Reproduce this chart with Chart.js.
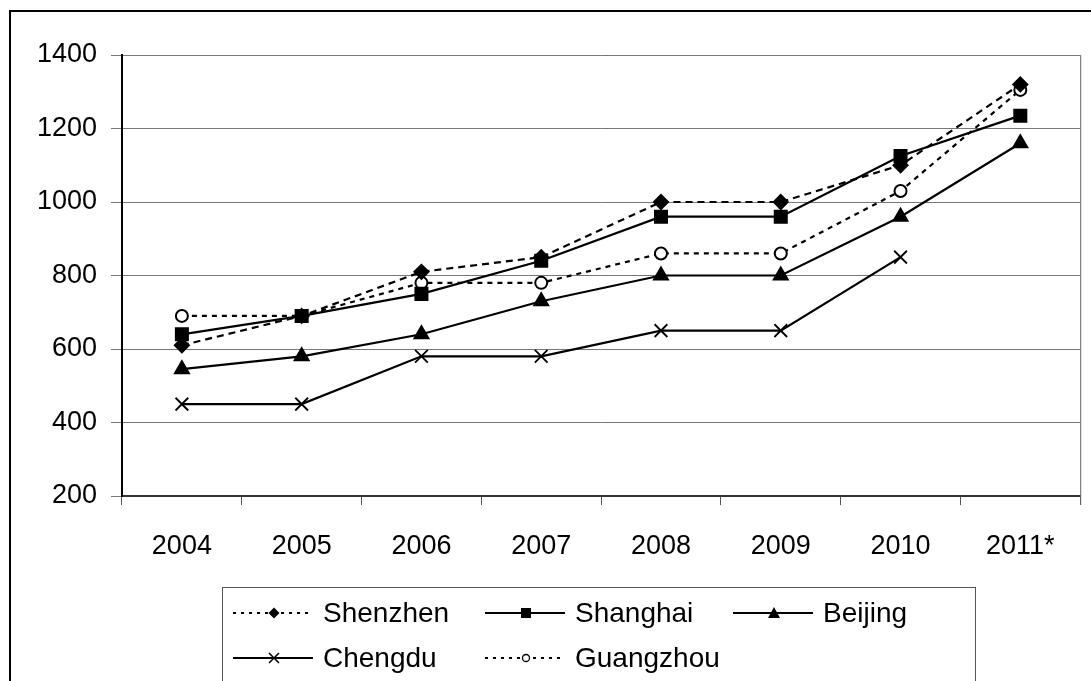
<!DOCTYPE html>
<html>
<head>
<meta charset="utf-8">
<script src="https://cdn.jsdelivr.net/npm/chart.js@4.4.1/dist/chart.umd.min.js"></script>
<style>
  html, body { margin: 0; padding: 0; background: #fff; overflow: hidden; }
  #wrap { position: relative; width: 1091px; height: 681px; }
  #frame { position: absolute; left: 9px; top: 10px; width: 1200px; height: 800px; border: 2px solid #000; box-sizing: border-box; pointer-events: none; }
  canvas { position: absolute; left: 0; top: 0; }
  #legend { position: absolute; left: 222px; top: 587px; width: 754px; height: 200px; border: 1px solid #555; box-sizing: border-box; font-family: "Liberation Sans", Arial, sans-serif; font-size: 28px; color: #000; }
  .sample { position: absolute; display: block; }
  .label { position: absolute; line-height: 32px; white-space: nowrap; }
</style>
</head>
<body>
<div id="wrap">
  <canvas id="c" width="1091" height="681"></canvas>
  <div id="frame"></div>
  <div id="legend"></div>
</div>
<script>
const categories = ["2004", "2005", "2006", "2007", "2008", "2009", "2010", "2011*"];
const shenzhen  = [610, 690, 810, 850, 1000, 1000, 1100, 1320];
const shanghai  = [640, 690, 750, 840, 960, 960, 1125, 1235];
const beijing   = [545, 580, 640, 730, 800, 800, 960, 1160];
const chengdu   = [450, 450, 580, 580, 650, 650, 850, null];
const guangzhou = [690, 690, 780, 780, 860, 860, 1030, 1305];
const yTicks = [200, 400, 600, 800, 1000, 1200, 1400];

const seriesDefs = [
  { label: "Shenzhen", data: shenzhen, style: "rectRot", r: 7, dash: [7, 5], fill: "#000" },
  { label: "Shanghai", data: shanghai, style: "rect", r: 8.5, dash: [], fill: "#000" },
  { label: "Beijing", data: beijing, style: "triangle", r: 8, dash: [], fill: "#000" },
  { label: "Chengdu", data: chengdu, style: "crossRot", r: 9, dash: [], fill: "#000" },
  { label: "Guangzhou", data: guangzhou, style: "circle", r: 6, dash: [5, 5], fill: "#fff" }
];

const datasets = seriesDefs.map(s => ({
  label: s.label,
  data: s.data,
  borderColor: "#000",
  borderWidth: 2.2,
  borderDash: s.dash,
  backgroundColor: s.fill,
  pointStyle: s.style,
  pointRadius: s.r,
  pointHoverRadius: s.r,
  pointBackgroundColor: s.fill,
  pointBorderColor: "#000",
  pointBorderWidth: s.style === "crossRot" ? 1.8 : 2,
  tension: 0,
  spanGaps: false,
  fill: false
}));

const frameRight = {
  id: "frameRight",
  afterDraw(chart) {
    const a = chart.chartArea, ctx = chart.ctx;
    ctx.save();
    ctx.strokeStyle = "#666";
    ctx.lineWidth = 1;
    ctx.beginPath();
    ctx.moveTo(a.right + 0.5, a.top);
    ctx.lineTo(a.right + 0.5, a.bottom + 9);
    ctx.stroke();
    ctx.restore();
  }
};

Chart.defaults.font.family = '"Liberation Sans", Arial, sans-serif';
new Chart(document.getElementById("c"), {
  type: "line",
  data: { labels: categories, datasets },
  options: {
    responsive: false,
    animation: false,
    devicePixelRatio: 1,
    layout: { padding: { top: 55, right: 9, left: 0, bottom: 0 } },
    plugins: { legend: { display: false }, tooltip: { enabled: false } },
    scales: {
      x: {
        type: "category",
        offset: true,
        grid: { offset: true, drawOnChartArea: false, drawTicks: true, tickLength: 9, color: "#555", lineWidth: 1 },
        border: { display: true, color: "#333", width: 2 },
        ticks: { color: "#000", font: { size: 27 }, padding: 25, maxRotation: 0, autoSkip: false },
        afterFit(s) { s.height = 681 - 496; }
      },
      y: {
        min: 200, max: 1400,
        afterBuildTicks(s) { s.ticks = yTicks.map(v => ({ value: v })); },
        grid: { color: "#777", lineWidth: 1, tickLength: 11, drawTicks: true },
        border: { display: true, color: "#000", width: 2 },
        ticks: { color: "#000", font: { size: 27 }, padding: 14, callback: v => String(v) },
        afterFit(s) { s.width = 122; }
      }
    }
  },
  plugins: [frameRight]
});

// HTML legend (positions relative to the legend box)
const legendItems = [
  { i: 0, x: 10, y: 25 }, { i: 1, x: 262, y: 25 }, { i: 2, x: 510, y: 25 },
  { i: 3, x: 10, y: 70 }, { i: 4, x: 262, y: 70 }
];
const leg = document.getElementById("legend");
function markerSVG(style, cx, cy) {
  if (style === "rectRot") return `<polygon points="${cx},${cy-5.5} ${cx+5.5},${cy} ${cx},${cy+5.5} ${cx-5.5},${cy}" fill="#000"/>`;
  if (style === "rect") return `<rect x="${cx-5}" y="${cy-5}" width="10" height="10" fill="#000"/>`;
  if (style === "triangle") return `<polygon points="${cx},${cy-6} ${cx+6},${cy+5} ${cx-6},${cy+5}" fill="#000"/>`;
  if (style === "crossRot") return `<path d="M${cx-5} ${cy-5}L${cx+5} ${cy+5}M${cx+5} ${cy-5}L${cx-5} ${cy+5}" stroke="#000" stroke-width="1.5"/>`;
  return `<circle cx="${cx}" cy="${cy}" r="3.5" fill="#fff" stroke="#000" stroke-width="1.3"/>`;
}
legendItems.forEach(it => {
  const s = seriesDefs[it.i];
  const dash = s.dash.length ? `stroke-dasharray="3,5"` : "";
  const svg = document.createElementNS("http://www.w3.org/2000/svg", "svg");
  svg.setAttribute("width", "80");
  svg.setAttribute("height", "20");
  svg.setAttribute("class", "sample");
  svg.style.left = it.x + "px";
  svg.style.top = (it.y - 10) + "px";
  svg.innerHTML = `<line x1="0" y1="10" x2="80" y2="10" stroke="#000" stroke-width="2" ${dash}/>${markerSVG(s.style, 41, 10)}`;
  leg.appendChild(svg);
  const lab = document.createElement("div");
  lab.className = "label";
  lab.style.left = (it.x + 90) + "px";
  lab.style.top = (it.y - 16) + "px";
  lab.textContent = s.label;
  leg.appendChild(lab);
});
</script>
</body>
</html>
